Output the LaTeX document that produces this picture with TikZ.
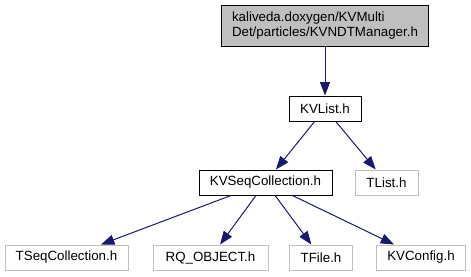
\documentclass[tikz,border=0pt]{standalone}
\usepackage{fontspec}
\setmainfont{Liberation Sans}
\usetikzlibrary{arrows.meta}
\definecolor{edgeblue}{HTML}{191970}
\definecolor{extgray}{HTML}{BFBFBF}
\begin{document}
\begin{tikzpicture}[x=0.75pt,y=-0.75pt,
  font=\fontsize{10}{11.25}\selectfont,
  filebox/.style={draw=black,line width=0.75pt,fill=white,inner xsep=8pt,
    inner ysep=0pt,minimum height=18.75pt},
  extbox/.style={filebox,draw=extgray},
  rootbox/.style={filebox,fill=extgray,align=left,minimum height=30.75pt},
  dep/.style={draw=edgeblue,line width=0.75pt,
    -{Triangle[length=10pt,width=7.5pt]}}]
\useasboundingbox (0,0) rectangle (471,276);
\fill[white] (0,0) rectangle (471,276);

% the header and its include tree
\node[rootbox,minimum width=154.5pt] (root) at (325,25.5)
  {kaliveda.doxygen/KVMulti\\Det/particles/KVNDTManager.h};
\node[filebox,minimum width=54pt] (kvlist) at (325,108.5) {KVList.h};
\node[filebox,minimum width=99.75pt] (kvseq) at (265.5,182.5) {KVSeqCollection.h};
\node[extbox,minimum width=47.25pt] (tlist) at (386.5,182.5) {TList.h};
\node[extbox,minimum width=92.25pt] (tseq) at (66.5,257.5) {TSeqCollection.h};
\node[extbox,minimum width=86.25pt] (rq) at (210.5,257.5) {RQ\_OBJECT.h};
\node[extbox,minimum width=46.5pt] (tfile) at (321,257.5) {TFile.h};
\node[extbox,minimum width=66pt] (kvconf) at (421,257.5) {KVConfig.h};

\draw[dep] (root) -- (kvlist);
\draw[dep] (kvlist) -- (kvseq);
\draw[dep] (kvlist) -- (tlist);
\draw[dep] (kvseq) -- (tseq);
\draw[dep] (kvseq) -- (rq);
\draw[dep] (kvseq) -- (tfile);
\draw[dep] (kvseq) -- (kvconf);
\end{tikzpicture}
\end{document}
